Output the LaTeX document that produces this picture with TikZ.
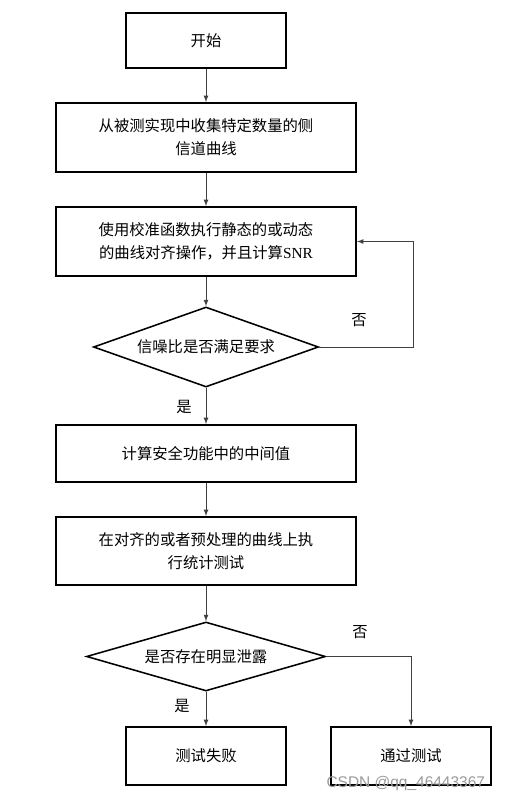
\documentclass[tikz,border=0pt]{standalone}
\usepackage{fontspec}
\setmainfont{Noto Sans CJK SC}
\newfontfamily\latinfont{Liberation Serif}
\newfontfamily\markfont{Liberation Sans}
\usetikzlibrary{shapes.geometric,arrows.meta}

\begin{document}
\begin{tikzpicture}[x=0.025cm,y=-0.025cm,
  every node/.style={font=\fontsize{10.9}{16.3}\selectfont},
  box/.style={draw,line width=1.3pt,align=center,inner sep=0pt},
  decision/.style={draw,line width=1.1pt,diamond,inner sep=0pt},
  link/.style={-latex,draw=black!75,line width=0.6pt}]
\useasboundingbox (0,0) rectangle (505,802);

% Main column
\node[box,minimum width=4cm,minimum height=1.375cm] (start) at (206,40.5) {开始};
\node[box,minimum width=7.5cm,minimum height=1.725cm] (collect) at (206,137.5)
  {从被测实现中收集特定数量的侧\\信道曲线};
\node[box,minimum width=7.5cm,minimum height=1.725cm] (align) at (206,241.5)
  {使用校准函数执行静态的或动态\\的曲线对齐操作，并且计算{\latinfont SNR}};
\node[decision,aspect=2.81,minimum width=5.625cm,minimum height=2cm] (snr) at (206,347) {信噪比是否满足要求};
\node[box,minimum width=7.5cm,minimum height=1.425cm] (inter) at (206,453.5) {计算安全功能中的中间值};
\node[box,minimum width=7.5cm,minimum height=1.7cm] (stat) at (206,551)
  {在对齐的或者预处理的曲线上执\\行统计测试};
\node[decision,aspect=3.46,minimum width=5.975cm,minimum height=1.725cm] (leak) at (206,656.5) {是否存在明显泄露};

% Results
\node[box,minimum width=4cm,minimum height=1.45cm] (fail) at (206,756) {测试失败};
\node[box,minimum width=4cm,minimum height=1.45cm] (pass) at (411,756) {通过测试};

% Connectors
\draw[link] (start) -- (collect);
\draw[link] (collect) -- (align);
\draw[link] (align) -- (snr);
\draw[link] (snr) -- (inter);
\draw[link] (inter) -- (stat);
\draw[link] (stat) -- (leak);
\draw[link] (leak) -- (fail);
\coordinate (back) at (413,241.5);
\draw[link] (snr.east) -| (back) -- (align.east);
\draw[link] (leak.east) -| (pass.north);

% Labels
\node (no1) at (359,320) {否};
\node (yes1) at (184,407) {是};
\node (no2) at (360,632) {否};
\node (yes2) at (182,706) {是};

% Watermark
\node[text=black!40,font=\markfont\fontsize{11}{13}\selectfont,anchor=east] (mark) at (490,783) {CSDN @qq\_46443367};
\end{tikzpicture}
\end{document}
